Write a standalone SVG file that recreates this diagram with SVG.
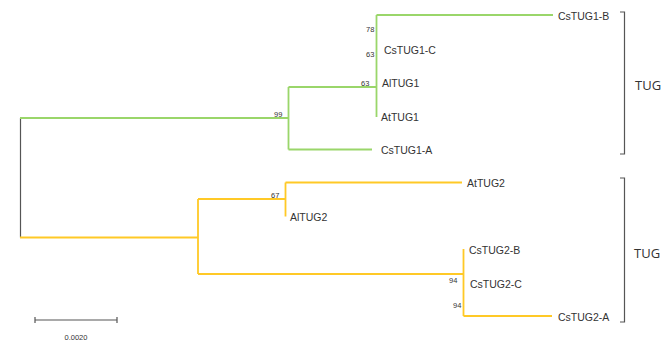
<svg xmlns="http://www.w3.org/2000/svg" width="661" height="342" viewBox="0 0 661 342">
  <style>
    .g { stroke: #9ad66a; stroke-width: 1.8; fill: none; }
    .y { stroke: #ffc926; stroke-width: 1.8; fill: none; }
    .k { stroke: #555; stroke-width: 1.2; fill: none; }
    .leaf { font-family: "Liberation Sans", Arial, sans-serif; font-size: 10.5px; fill: #333; }
    .bs { font-family: "Liberation Sans", Arial, sans-serif; font-size: 7.5px; fill: #333; }
    .grp { font-family: "Open Sans", "Liberation Sans", sans-serif; font-size: 13px; fill: #333; }
  </style>
  <rect width="661" height="342" fill="#fff"/>

  <g id="branches">
    <!-- root -->
    <line class="k" x1="20.5" y1="118" x2="20.5" y2="237.5"/>
    <!-- TUG1 clade -->
    <path class="g" d="M20 118 H288.5 M288.5 87 V149.5 M288.5 87 H376.5 M376.5 15 V117 M376.5 15 H553 M288.5 149.5 H372"/>
    <!-- TUG2 clade -->
    <path class="y" d="M20 237.5 H198 M198 199 V274 M198 199 H285.5 M285.5 182.5 V216.5 M285.5 182.5 H462 M198 274 H463.5 M463.5 249 V316 M463.5 316 H552"/>
  </g>

  <g id="support">
    <text class="bs" x="274" y="116.5">99</text>
    <text class="bs" x="366" y="32">78</text>
    <text class="bs" x="366" y="57">63</text>
    <text class="bs" x="361" y="86">63</text>
    <text class="bs" x="271" y="198">67</text>
    <text class="bs" x="449" y="283">94</text>
    <text class="bs" x="453" y="308">94</text>
  </g>

  <g id="leaves">
    <text id="CsTUG1-B" class="leaf" x="558" y="20">CsTUG1-B</text>
    <text id="CsTUG1-C" class="leaf" x="384" y="54">CsTUG1-C</text>
    <text id="AlTUG1" class="leaf" x="382" y="87">AlTUG1</text>
    <text id="AtTUG1" class="leaf" x="381" y="121">AtTUG1</text>
    <text id="CsTUG1-A" class="leaf" x="381" y="154">CsTUG1-A</text>
    <text id="AtTUG2" class="leaf" x="467" y="187">AtTUG2</text>
    <text id="AlTUG2" class="leaf" x="290" y="221">AlTUG2</text>
    <text id="CsTUG2-B" class="leaf" x="469" y="254">CsTUG2-B</text>
    <text id="CsTUG2-C" class="leaf" x="470" y="288">CsTUG2-C</text>
    <text id="CsTUG2-A" class="leaf" x="558" y="321">CsTUG2-A</text>
  </g>

  <g id="bracket-1">
    <path class="k" d="M620 12 H624.5 V154 H620"/>
    <text class="grp" x="635" y="90">TUG</text>
  </g>
  <g id="bracket-2">
    <path class="k" d="M620 178 H624.5 V322 H620"/>
    <text class="grp" x="634" y="258">TUG</text>
  </g>

  <g id="scale-bar">
    <path class="k" d="M35 320 H117 M35 317 V323 M117 317 V323"/>
    <text class="bs" x="76" y="340" text-anchor="middle">0.0020</text>
  </g>
</svg>
